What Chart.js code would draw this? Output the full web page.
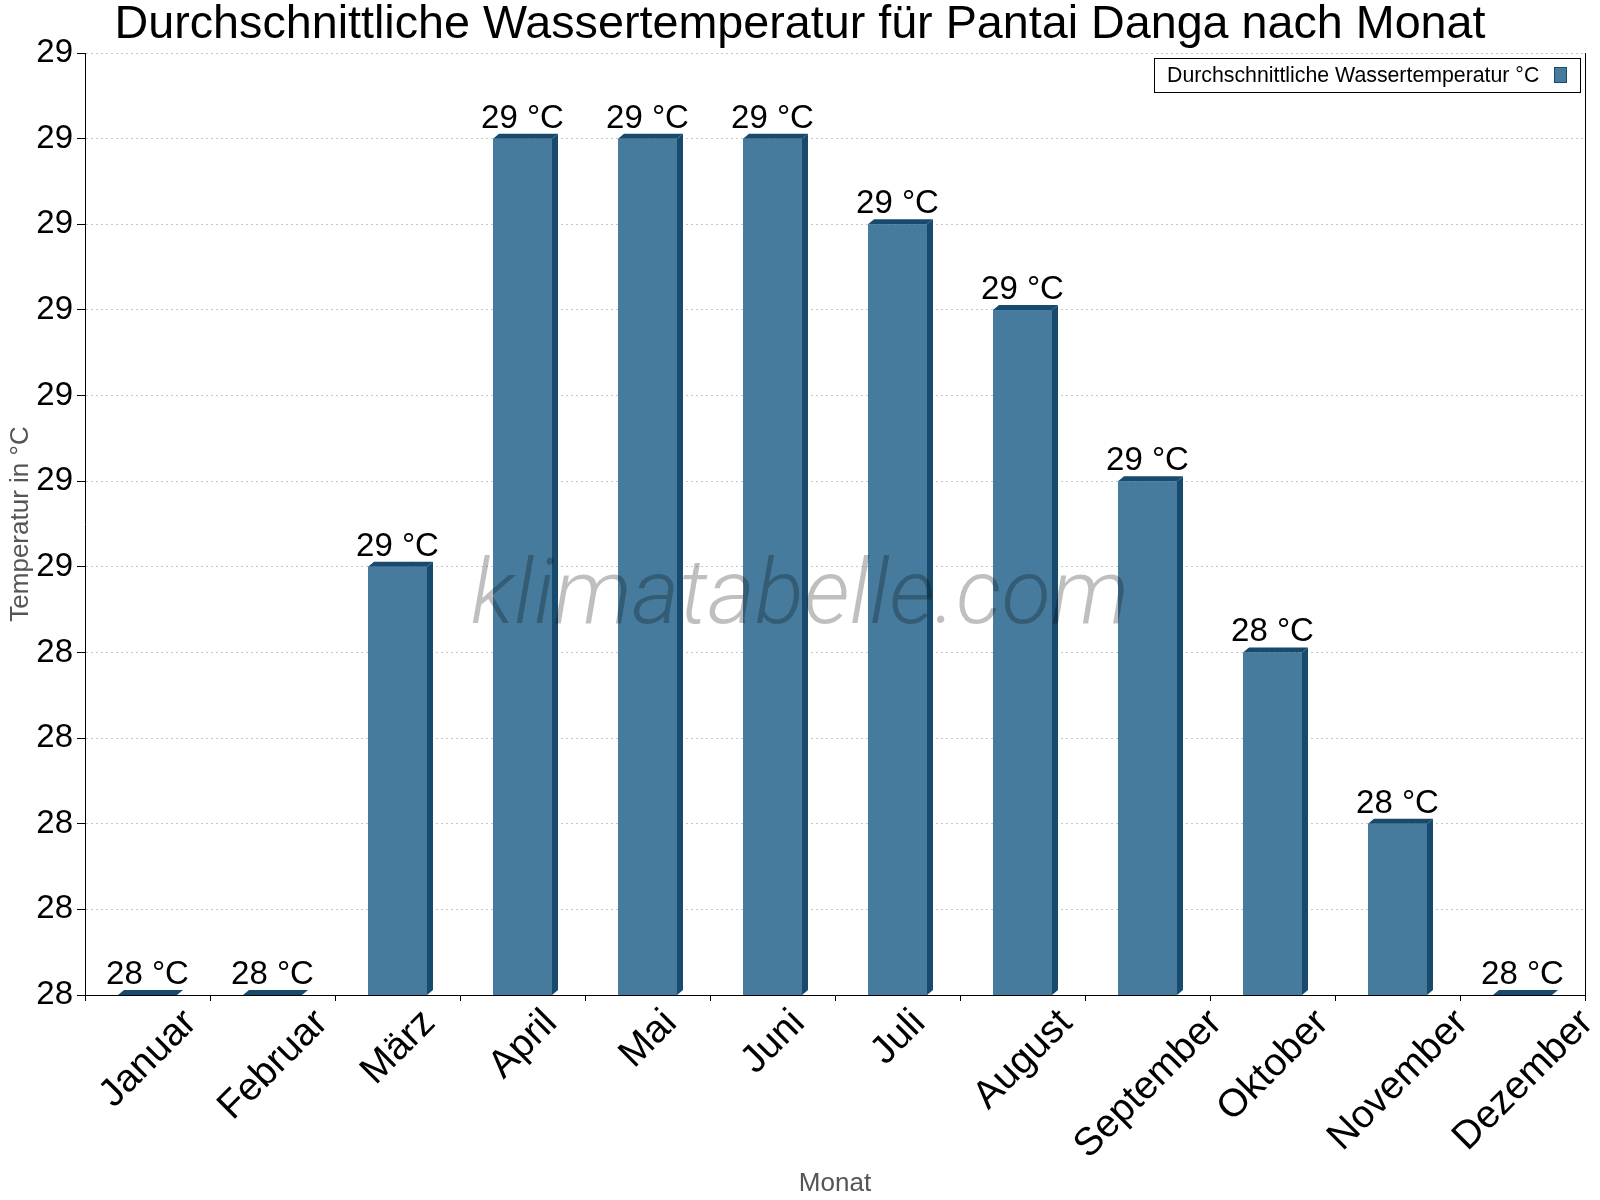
<!DOCTYPE html>
<html>
<head>
<meta charset="utf-8">
<script src="https://cdn.jsdelivr.net/npm/chart.js@4/dist/chart.umd.min.js"></script>
<style>
html,body{margin:0;padding:0;background:#fff;}
#wrap{width:1600px;height:1200px;}
</style>
</head>
<body>
<div id="wrap"><canvas id="c" width="1600" height="1200"></canvas></div>
<script>
// ---- data ----
const chartTitle = 'Durchschnittliche Wassertemperatur für Pantai Danga nach Monat';
const seriesLabel = 'Durchschnittliche Wassertemperatur °C';
const months = ['Januar','Februar','März','April','Mai','Juni','Juli','August','September','Oktober','November','Dezember'];
const waterTemp = [28.0, 28.0, 28.5, 29.0, 29.0, 29.0, 28.9, 28.8, 28.6, 28.4, 28.2, 28.0];
const yTickValues = [28.0, 28.1, 28.2, 28.3, 28.4, 28.5, 28.6, 28.7, 28.8, 28.9, 29.0, 29.1];
const yTickLabels = ['28','28','28','28','28','29','29','29','29','29','29','29'];
const yAxisTitle = 'Temperatur in °C';
const xAxisTitle = 'Monat';
const unitSuffix = ' °C';
const watermarkText = 'klimatabelle.com';

// ---- styles ----
const FONT = '"Liberation Sans", Arial, sans-serif';
const FRONT = '#467b9d';
const DARK = '#174a6c';
const DX = 6, DY = 5;

const decorPlugin = {
  id: 'decor',
  afterDatasetsDraw(chart) {
    const ctx = chart.ctx;
    const area = chart.chartArea;
    const meta = chart.getDatasetMeta(0);
    ctx.save();
    meta.data.forEach((bar) => {
      const p = bar.getProps(['x','y','width','base'], true);
      const base = Math.min(p.base, area.bottom);
      const l = p.x - p.width / 2, r = p.x + p.width / 2;
      ctx.fillStyle = DARK;
      ctx.beginPath();
      ctx.moveTo(l, p.y); ctx.lineTo(l + DX, p.y - DY); ctx.lineTo(r + DX, p.y - DY); ctx.lineTo(r, p.y);
      ctx.closePath(); ctx.fill();
      ctx.beginPath();
      ctx.moveTo(r, p.y); ctx.lineTo(r + DX, p.y - DY); ctx.lineTo(r + DX, base - DY); ctx.lineTo(r, base);
      ctx.closePath(); ctx.fill();
    });
    // value labels
    ctx.fillStyle = '#000';
    ctx.font = '33px ' + FONT;
    ctx.textAlign = 'center';
    ctx.textBaseline = 'alphabetic';
    meta.data.forEach((bar, i) => {
      const p = bar.getProps(['x','y'], true);
      ctx.fillText(Math.round(waterTemp[i]) + unitSuffix, p.x, p.y - 11);
    });
    // watermark
    ctx.fillStyle = 'rgba(0,0,0,0.25)';
    ctx.font = 'italic 300 91px "Roboto Light", "Lato Light", Roboto, ' + FONT;
    ctx.textAlign = 'center';
    ctx.fillText(watermarkText, 800, 623);
    ctx.restore();
  },
  afterDraw(chart) {
    const ctx = chart.ctx;
    const area = chart.chartArea;
    ctx.save();
    // right border
    ctx.strokeStyle = '#000';
    ctx.lineWidth = 1;
    ctx.beginPath();
    const rx = Math.round(area.right) + 0.5;
    ctx.moveTo(rx, area.top); ctx.lineTo(rx, area.bottom);
    ctx.stroke();
    // title
    ctx.fillStyle = '#000';
    ctx.font = '46.7px ' + FONT;
    ctx.textAlign = 'center';
    ctx.textBaseline = 'alphabetic';
    ctx.fillText(chartTitle, 800, 38);
    // x labels (rotated, centred on category)
    const xs = chart.scales.x;
    const fs = 39;
    ctx.font = fs + 'px ' + FONT;
    ctx.textAlign = 'center';
    ctx.textBaseline = 'middle';
    months.forEach((m, i) => {
      const cx = xs.getPixelForValue(i);
      const L = ctx.measureText(m).width;
      const half = 0.7071 * (L + fs * 0.72) / 2;
      ctx.save();
      ctx.translate(cx + 1, 1007 + half);
      ctx.rotate(-Math.PI / 4);
      ctx.fillText(m, 0, 0);
      ctx.restore();
    });
    // legend
    const lx = 1154.5, ly = 58.5, lw = 426, lh = 34;
    ctx.fillStyle = '#fff';
    ctx.fillRect(lx, ly, lw, lh);
    ctx.strokeStyle = '#000';
    ctx.strokeRect(lx, ly, lw, lh);
    ctx.fillStyle = '#000';
    ctx.font = '21.3px ' + FONT;
    ctx.textAlign = 'left';
    ctx.textBaseline = 'alphabetic';
    ctx.fillText(seriesLabel, 1167, 82);
    ctx.fillStyle = FRONT;
    ctx.fillRect(1554.5, 67.5, 12, 15);
    ctx.strokeStyle = DARK;
    ctx.strokeRect(1554.5, 67.5, 12, 15);
    ctx.restore();
  }
};

new Chart(document.getElementById('c'), {
  type: 'bar',
  data: {
    labels: months,
    datasets: [{
      label: seriesLabel,
      data: waterTemp,
      backgroundColor: FRONT,
      borderWidth: 0,
      barPercentage: 0.472,
      categoryPercentage: 1.0
    }]
  },
  options: {
    responsive: false,
    animation: false,
    devicePixelRatio: 1,
    layout: { padding: { top: 53, right: 15, left: 0, bottom: 0 } },
    plugins: {
      legend: { display: false },
      title: { display: false },
      tooltip: { enabled: false }
    },
    scales: {
      x: {
        offset: true,
        grid: { display: true, drawOnChartArea: false, drawTicks: true, tickLength: 6, tickColor: '#000', offset: true },
        border: { display: true, color: '#000', width: 1 },
        ticks: { display: false },
        title: { display: true, text: xAxisTitle, color: '#555', font: { family: FONT, size: 26 }, padding: { top: 0, bottom: 1 } },
        afterFit: (s) => { s.height = 205; }
      },
      y: {
        min: 28.0,
        max: 29.1,
        afterBuildTicks: (s) => { s.ticks = yTickValues.map(v => ({ value: v })); },
        grid: { color: '#c8c8c8', lineWidth: 1, drawTicks: true, tickLength: 8, tickColor: '#000', tickBorderDash: [] },
        border: { display: true, color: '#000', width: 1, dash: [2, 3] },
        ticks: {
          color: '#000',
          padding: 4,
          font: { family: FONT, size: 33 },
          callback: (v, i) => yTickLabels[i]
        },
        title: { display: true, text: yAxisTitle, color: '#555', font: { family: FONT, size: 26 }, padding: { top: 5, bottom: 0 } },
        afterFit: (s) => { s.width = 85; }
      }
    }
  },
  plugins: [decorPlugin]
});
</script>
</body>
</html>
